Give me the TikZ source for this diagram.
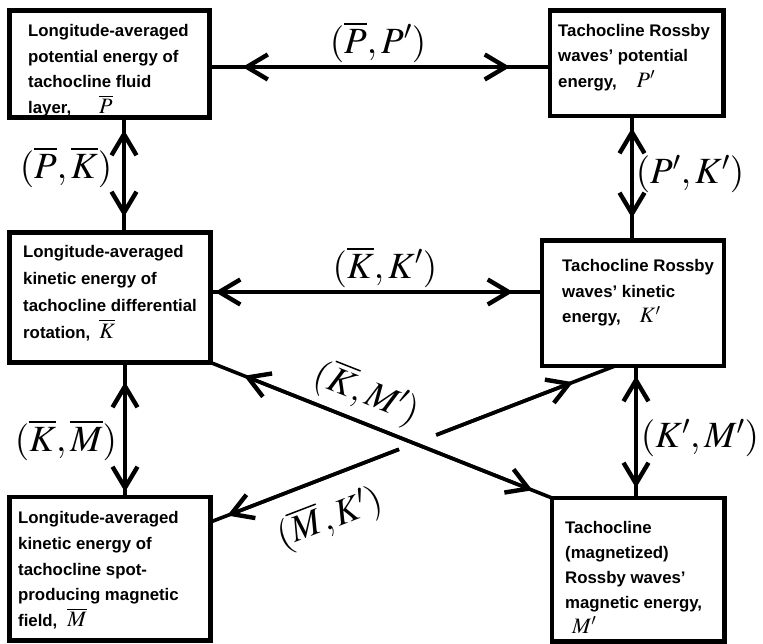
\documentclass[tikz,border=0pt]{standalone}
\usepackage{mathptmx}
\usepackage[no-math]{fontspec}
\setmainfont{Liberation Sans}
\usetikzlibrary{arrows.meta,calc}
\newcommand{\boxmath}[1]{{\fontsize{22}{22}\selectfont$#1$}}
\begin{document}
\begin{tikzpicture}[x=1pt,y=-1pt,
  box/.style={draw, line width=4.6pt, rectangle, inner sep=0pt, outer sep=0pt},
  txt/.style={font=\fontsize{16.8}{25.7}\selectfont\bfseries, align=left, anchor=base west, inner sep=0pt},
  conn/.style={line width=3.6pt},
  barb/.tip={Straight Barb[length=21pt,width=25pt,line width=4.4pt]},
  both/.style={conn, arrows={barb-barb}},
  lbl/.style={font=\fontsize{37}{40}\selectfont, inner sep=0pt}
]
\useasboundingbox (0,0) rectangle (763,644);

% boxes
\node[box, minimum width=200pt, minimum height=107pt] (tl) at (109.5,64) {};
\node[box, minimum width=173.5pt, minimum height=105.5pt] (tr) at (636.75,63.25) {};
\node[box, minimum width=201pt, minimum height=130pt] (ml) at (110,297.5) {};
\node[box, minimum width=182pt, minimum height=125.5pt] (mr) at (633,303.25) {};
\node[box, minimum width=201pt, minimum height=143.5pt] (bl) at (110,568.75) {};
\node[box, minimum width=172.5pt, minimum height=143.5pt] (br) at (638.25,569.75) {};

% box texts (anchor = baseline of the last line)
\node[txt] (tlt) at (28,113.5) {Longitude-averaged\\potential energy of\\tachocline fluid\\layer,\hspace{28pt}\boxmath{\overline{P}}};
\node[txt] (trt) at (558,87.5) {Tachocline Rossby\\waves’ potential\\energy,\hspace{20pt}\boxmath{P'}};
\node[txt, font=\fontsize{16.8}{27}\selectfont\bfseries] (mlt) at (23,338) {Longitude-averaged\\kinetic energy of\\tachocline differential\\rotation,\hspace{9pt}\boxmath{\overline{K}}};
\node[txt, font=\fontsize{16.8}{25.5}\selectfont\bfseries] (mrt) at (562,323) {Tachocline Rossby\\waves’ kinetic\\energy,\hspace{19pt}\boxmath{K'}};
\node[txt] (blt) at (18,626.5) {Longitude-averaged\\kinetic energy of\\tachocline spot-\\producing magnetic\\field,\hspace{10pt}\boxmath{\overline{M}}};
\node[txt, font=\fontsize{16.8}{24.8}\selectfont\bfseries] (brt) at (565,633) {Tachocline\\(magnetized)\\Rossby waves’\\magnetic energy,\\\hspace{7pt}\boxmath{M'}};

% (P,P')
\draw[conn] ([yshift=-3pt]tl.east) -- ([yshift=-3.75pt]tr.west);
\draw[both, shorten <=33pt, shorten >=40pt] ([yshift=-3pt]tl.east) -- ([yshift=-3.75pt]tr.west);
% (P,K)
\draw[conn] ([xshift=14.5pt]tl.south) -- ([xshift=14pt]ml.north);
\draw[both, shorten <=12.5pt, shorten >=15.5pt] ([xshift=14.5pt]tl.south) -- ([xshift=14pt]ml.north);
% (P',K')
\draw[conn] ([xshift=-4.75pt]tr.south) -- ([xshift=-1pt]mr.north);
\draw[both, shorten <=12pt, shorten >=22.5pt] ([xshift=-4.75pt]tr.south) -- ([xshift=-1pt]mr.north);
% (K,K')
\draw[conn] ([yshift=5.5pt]ml.east) -- ([yshift=11.25pt]mr.west);
\draw[both, shorten <=4.5pt, shorten >=29pt] ([yshift=5.5pt]ml.east) -- ([yshift=11.25pt]mr.west);
% (K,M)
\draw[conn] ([xshift=15pt]ml.south) -- ([xshift=15pt]bl.north);
\draw[both, shorten <=19.5pt, shorten >=5pt] ([xshift=15pt]ml.south) -- ([xshift=15pt]bl.north);
% (K',M')
\draw[conn] ([xshift=3pt]mr.south) -- ([xshift=-2.25pt]br.north);
\draw[both, shorten <=10pt, shorten >=10pt] ([xshift=3pt]mr.south) -- ([xshift=-2.25pt]br.north);
% (K,M') diagonal
\draw[conn] (ml.south east) -- (br.north west);
\draw[both, shorten <=36pt, shorten >=21pt] (ml.south east) -- (br.north west);
% (M,K') diagonal with gap
\coordinate (mb) at ([yshift=-25pt]bl.north east);
\coordinate (mk) at ([xshift=-18pt]mr.south);
\coordinate (g1) at ($(mb)!0.466!(mk)$);
\coordinate (g2) at ($(mb)!0.558!(mk)$);
\draw[conn] (mb) -- (g1);
\draw[conn] (g2) -- (mk);
\draw[conn, arrows={barb-}, shorten <=18pt] (mb) -- (g1);
\draw[conn, arrows={-barb}, shorten >=45pt] (g2) -- (mk);

% labels
\node[lbl] (lPP) at (378,42) {$(\overline{P},P')$};
\node[lbl] (lPK) at (66,167) {$(\overline{P},\overline{K})$};
\node[lbl] (lPpKp) at (690,174) {$(P',K')$};
\node[lbl] (lKK) at (385,267) {$(\overline{K},K')$};
\node[lbl] (lKM) at (66,440) {$(\overline{K},\overline{M})$};
\node[lbl] (lKpMp) at (700,438) {$(K',M')$};
\node[lbl, rotate=-21.5] (lKMp) at (367,393) {$(\overline{K},M')$};
\node[lbl, rotate=21] (lMK) at (330,518) {$(\overline{M},K')$};
\end{tikzpicture}
\end{document}
